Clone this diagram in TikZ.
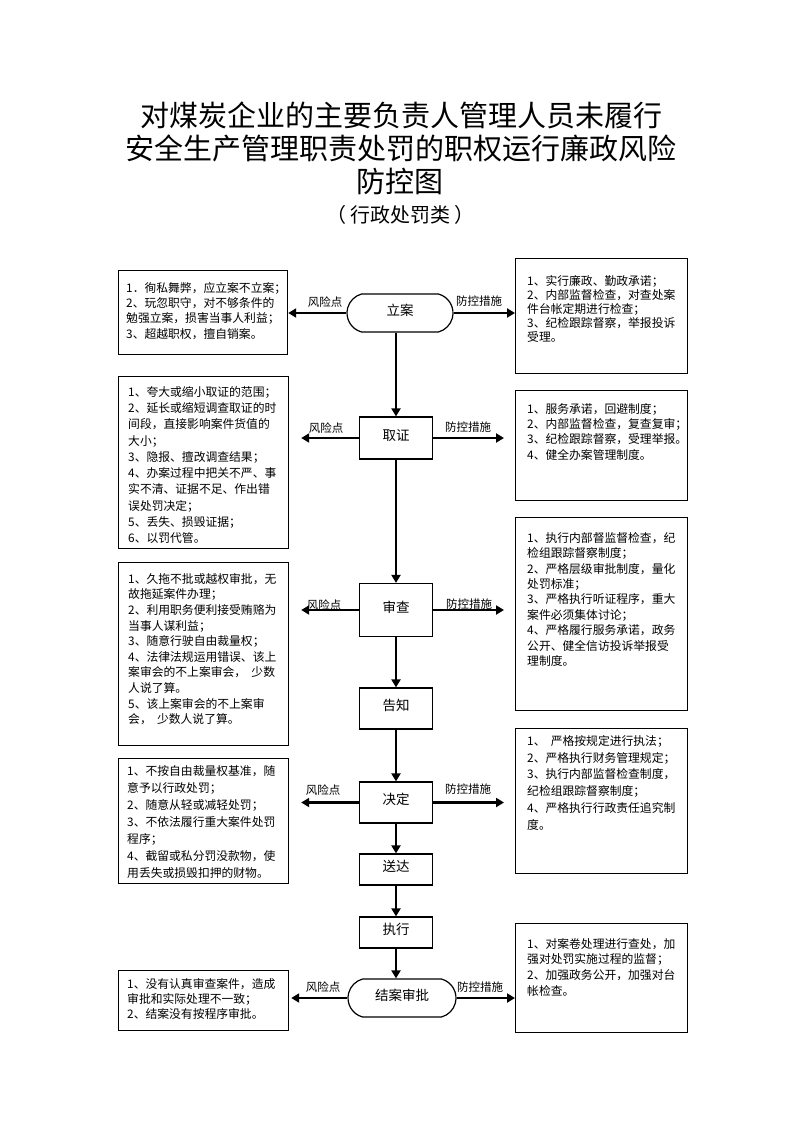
\documentclass[tikz,border=0pt]{standalone}
\usepackage{fontspec}
\setmainfont{Noto Sans CJK SC}
\usetikzlibrary{arrows.meta,shapes.misc,calc}
\begin{document}
\begin{tikzpicture}[x=1pt,y=-1pt,
  frame/.style={draw, line width=1.2pt, anchor=north west, inner sep=0pt},
  txt/.style={anchor=north west, inner sep=0pt, align=left, font=\fontsize{11.8}{#1}\selectfont},
  proc/.style={draw, line width=1.2pt, minimum width=73pt, inner sep=0pt, text height=9pt, text depth=5pt, font=\fontsize{13.5}{16}\selectfont},
  term/.style={proc, rounded rectangle, rounded rectangle arc length=150},
  arr/.style={line width=2.6pt, -{Triangle[length=8pt,width=9pt]}},
  lbl/.style={inner sep=0pt, font=\fontsize{11.5}{14}\selectfont},
  ttl/.style={inner sep=0pt, font=\fontsize{29}{32}\selectfont}]
\useasboundingbox (0,0) rectangle (794,1123);
% title
\node[ttl] (T1) at (401,115) {对煤炭企业的主要负责人管理人员未履行};
\node[ttl] (T2) at (401,148) {安全生产管理职责处罚的职权运行廉政风险};
\node[ttl] (T3) at (400,181) {防控图};
\node[inner sep=0pt, font=\fontsize{20}{24}\selectfont] (T4) at (400,215) {（\hspace{4pt}行政处罚类\hspace{4pt}）};
% process nodes
\node[term, minimum width=106pt, minimum height=38pt] (LA) at (400,313) {立案};
\node[proc, minimum height=42pt] (QZ) at (396,438) {取证};
\node[proc, minimum height=53pt] (SC) at (396,610) {审查};
\node[proc, minimum height=41pt] (GZ) at (396,708.5) {告知};
\node[proc, minimum height=41pt] (JD) at (396,802.5) {决定};
\node[proc, minimum height=31pt] (SD) at (396,869.5) {送达};
\node[proc, minimum height=31pt] (ZX) at (396,932.5) {执行};
\node[term, minimum width=108pt, minimum height=38pt] (JA) at (402,998) {结案审批};
% left boxes
\node[frame, minimum width=169pt, minimum height=84pt] (L1) at (118,270) {};
\node[txt=15.3] (L1t) at ($(L1.north west)+(8,12)$) {1．徇私舞弊，应立案不立案；\\2、玩忽职守，对不够条件的\\勉强立案，损害当事人利益；\\3、超越职权，擅自销案。};
\node[frame, minimum width=170pt, minimum height=172pt] (L2) at (118,376) {};
\node[txt=16.3] (L2t) at ($(L2.north west)+(10,10)$) {1、夸大或缩小取证的范围；\\2、延长或缩短调查取证的时\\间段，直接影响案件货值的\\大小；\\3、隐报、擅改调查结果；\\4、办案过程中把关不严、事\\实不清、证据不足、作出错\\误处罚决定；\\5、丢失、损毁证据；\\6、以罚代管。};
\node[frame, minimum width=170pt, minimum height=183pt] (L3) at (118,562) {};
\node[txt=15.6] (L3t) at ($(L3.north west)+(10,11)$) {1、久拖不批或越权审批，无\\故拖延案件办理；\\2、利用职务便利接受贿赂为\\当事人谋利益；\\3、随意行驶自由裁量权；\\4、法律法规运用错误、该上\\案审会的不上案审会，\ \ 少数\\人说了算。\\5、该上案审会的不上案审\\会，\ \ 少数人说了算。};
\node[frame, minimum width=170pt, minimum height=125pt] (L4) at (118,758) {};
\node[txt=17] (L4t) at ($(L4.north west)+(9,7)$) {1、不按自由裁量权基准，随\\意予以行政处罚；\\2、随意从轻或减轻处罚；\\3、不依法履行重大案件处罚\\程序；\\4、截留或私分罚没款物，使\\用丢失或损毁扣押的财物。};
\node[frame, minimum width=170pt, minimum height=60pt] (L5) at (118,970) {};
\node[txt=15] (L5t) at ($(L5.north west)+(9,8)$) {1、没有认真审查案件，造成\\审批和实际处理不一致；\\2、结案没有按程序审批。};
% right boxes
\node[frame, minimum width=172pt, minimum height=115pt] (R1) at (515,258) {};
\node[txt=14.2] (R1t) at ($(R1.north west)+(12,17)$) {1、实行廉政、勤政承诺；\\2、内部监督检查，对查处案\\件台帐定期进行检查；\\3、纪检跟踪督察，举报投诉\\受理。};
\node[frame, minimum width=172pt, minimum height=110pt] (R2) at (515,390) {};
\node[txt=15.3] (R2t) at ($(R2.north west)+(12,13)$) {1、服务承诺，回避制度；\\2、内部监督检查，复查复审；\\3、纪检跟踪督察，受理举报。\\4、健全办案管理制度。};
\node[frame, minimum width=172pt, minimum height=193pt] (R3) at (515,517) {};
\node[txt=15.4] (R3t) at ($(R3.north west)+(12,15)$) {1、执行内部督监督检查，纪\\检组跟踪督察制度；\\2、严格层级审批制度，量化\\处罚标准；\\3、严格执行听证程序，重大\\案件必须集体讨论；\\4、严格履行服务承诺，政务\\公开、健全信访投诉举报受\\理制度。};
\node[frame, minimum width=172pt, minimum height=145pt] (R4) at (515,728) {};
\node[txt=16.8] (R4t) at ($(R4.north west)+(12,7)$) {1、\ \ 严格按规定进行执法；\\2、严格执行财务管理规定；\\3、执行内部监督检查制度，\\纪检组跟踪督察制度；\\4、严格执行行政责任追究制\\度。};
\node[frame, minimum width=172pt, minimum height=109pt] (R5) at (515,923) {};
\node[txt=15.7] (R5t) at ($(R5.north west)+(12,15)$) {1、对案卷处理进行查处，加\\强对处罚实施过程的监督；\\2、加强政务公开，加强对台\\帐检查。};
% vertical flow
\draw[arr] (LA.south -| QZ.north) -- (QZ.north);
\draw[arr] (QZ.south) -- (SC.north);
\draw[arr] (SC.south) -- (GZ.north);
\draw[arr] (GZ.south) -- (JD.north);
\draw[arr] (JD.south) -- (SD.north);
\draw[arr] (SD.south) -- (ZX.north);
\draw[arr] (ZX.south) -- (ZX.south |- JA.north);
% horizontal arrows
\draw[arr] (LA.west) -- (LA.west -| L1.east);
\draw[arr] (LA.east) -- (LA.east -| R1.west);
\draw[arr, shorten >=12pt] (QZ.west) -- (QZ.west -| L2.east);
\draw[arr, shorten >=11pt] (QZ.east) -- (QZ.east -| R2.west);
\draw[arr, shorten >=12pt] (SC.west) -- (SC.west -| L3.east);
\draw[arr, shorten >=11pt] (SC.east) -- (SC.east -| R3.west);
\draw[arr, shorten >=12pt] (JD.west) -- (JD.west -| L4.east);
\draw[arr, shorten >=11pt] (JD.east) -- (JD.east -| R4.west);
\draw[arr, shorten >=2pt] (JA.west) -- (JA.west -| L5.east);
\draw[arr] (JA.east) -- (JA.east -| R5.west);
% labels
\node[lbl] (a1) at (325,302) {风险点};
\node[lbl] (b1) at (479,301) {防控措施};
\node[lbl] (a2) at (326,428) {风险点};
\node[lbl] (b2) at (468,427) {防控措施};
\node[lbl] (a3) at (324,605) {风险点};
\node[lbl] (b3) at (469,604) {防控措施};
\node[lbl] (a4) at (323,790) {风险点};
\node[lbl] (b4) at (468,789) {防控措施};
\node[lbl] (a5) at (323,987) {风险点};
\node[lbl] (b5) at (480,987) {防控措施};
\end{tikzpicture}
\end{document}
